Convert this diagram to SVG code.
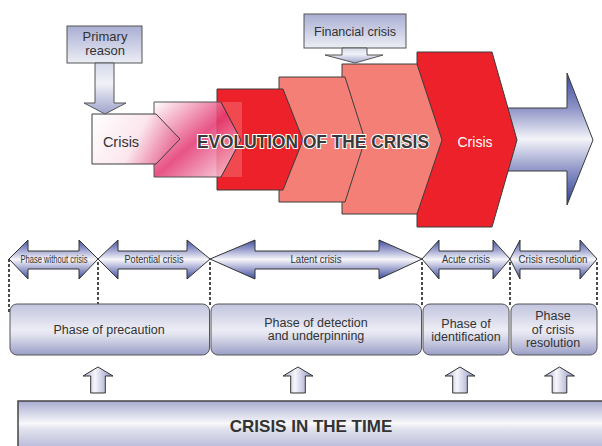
<svg xmlns="http://www.w3.org/2000/svg" width="602" height="446" viewBox="0 0 602 446">
<defs>
<style>
.ol{stroke:#3c3c3c;stroke-width:1;stroke-linejoin:miter}
.t{font-family:"Liberation Sans",Arial,sans-serif;fill:#333}
.lbl{font-family:"Liberation Sans",Arial,sans-serif;fill:#333;font-size:10px;text-anchor:middle}
.ph{font-family:"Liberation Sans",Arial,sans-serif;fill:#333;font-size:12.5px;text-anchor:middle}
.dash{stroke:#111;stroke-width:1.5;stroke-dasharray:3 2;fill:none}
.phase{fill:url(#gPhase);stroke:#555;stroke-width:1}
.dbl{fill:url(#gDbl);stroke:#333;stroke-width:1}
.up{fill:url(#gUp);stroke:#333;stroke-width:1}
.red{fill:#ed2129}
.salmon{fill:#f37f76}
</style>
<linearGradient id="gBlueArrow" gradientUnits="userSpaceOnUse" x1="0" y1="73" x2="0" y2="205">
<stop offset="0" stop-color="#3a4c9e"/>
<stop offset="0.265" stop-color="#8d93c6"/>
<stop offset="0.5" stop-color="#f4f4f9"/>
<stop offset="0.74" stop-color="#8d93c6"/>
<stop offset="1" stop-color="#2c4293"/>
</linearGradient>
<linearGradient id="gDbl" gradientUnits="userSpaceOnUse" x1="0" y1="240" x2="0" y2="279">
<stop offset="0" stop-color="#3e4f9f"/>
<stop offset="0.28" stop-color="#a7abd3"/>
<stop offset="0.5" stop-color="#f6f6fa"/>
<stop offset="0.72" stop-color="#a7abd3"/>
<stop offset="1" stop-color="#3a4b9a"/>
</linearGradient>
<linearGradient id="gPhase" x1="0" y1="0" x2="0" y2="1">
<stop offset="0" stop-color="#c2c4df"/>
<stop offset="0.5" stop-color="#ebecf4"/>
<stop offset="0.6" stop-color="#e2e3ef"/>
<stop offset="1" stop-color="#9a9ec7"/>
</linearGradient>
<linearGradient id="gBar" gradientUnits="userSpaceOnUse" x1="0" y1="401" x2="0" y2="446">
<stop offset="0" stop-color="#a9acd0"/>
<stop offset="0.5" stop-color="#f8f8fb"/>
<stop offset="0.6" stop-color="#e4e5ef"/>
<stop offset="1" stop-color="#bcbedb"/>
</linearGradient>
<linearGradient id="gBox" x1="0" y1="0" x2="0" y2="1">
<stop offset="0" stop-color="#a9aed3"/>
<stop offset="1" stop-color="#eceef5"/>
</linearGradient>
<linearGradient id="gDown" x1="0" y1="0" x2="0" y2="1">
<stop offset="0" stop-color="#d5d8ea"/>
<stop offset="0.4" stop-color="#f1f2f8"/>
<stop offset="1" stop-color="#9fa4cc"/>
</linearGradient>
<linearGradient id="gUp" x1="0" y1="0" x2="1" y2="0">
<stop offset="0" stop-color="#a3a7cf"/>
<stop offset="0.4" stop-color="#f6f6fb"/>
<stop offset="1" stop-color="#8c91c1"/>
</linearGradient>
<linearGradient id="gPink" x1="0" y1="0" x2="1" y2="1">
<stop offset="0" stop-color="#ffffff"/>
<stop offset="0.5" stop-color="#e43c74"/>
<stop offset="1" stop-color="#fbe3ea"/>
</linearGradient>
<linearGradient id="gWhitePink" x1="0" y1="0" x2="1" y2="0.3">
<stop offset="0" stop-color="#ffffff"/>
<stop offset="0.6" stop-color="#fbe6ed"/>
<stop offset="1" stop-color="#e9779d"/>
</linearGradient>
</defs>

<g id="big-arrow"><polygon class="ol" fill="url(#gBlueArrow)" points="500,108 567,108 567,73 593,140 567,205 567,171 500,171"/></g>
<g id="crisis-red"><polygon class="ol red" points="417,52 492,52 517,140 492,227 417,227"/>
<text class="t" x="475" y="147" font-size="14" text-anchor="middle" style="fill:#fff">Crisis</text></g>
<g id="stage3"><polygon class="ol salmon" points="342,64 417,64 442,140 417,214 342,214"/></g>
<g id="stage2"><polygon class="ol salmon" points="279,77 345,77 365,140 345,202 279,202"/></g>
<g id="stage1"><polygon class="ol red" points="217,89 283,89 303,140 283,190 217,190"/></g>
<g id="pink-box">
<polygon fill="url(#gPink)" fill-opacity="0.88" points="154,102 221,102 241,140 221,177 154,177"/>
<polygon fill="#ffffff" fill-opacity="0.18" points="221,102 242,102 242,177 221,177 241,140"/>
<polyline fill="none" stroke="#555" stroke-width="1" points="221,102 154,102 154,177 221,177"/>
<polyline fill="none" stroke="#333" stroke-width="1" points="221,102 241,140 221,177"/>
</g>
<g id="crisis-start"><polygon class="ol" fill="url(#gWhitePink)" points="92,114 156,114 180,139 156,164 92,164"/>
<text class="t" x="121" y="147" font-size="14.5" text-anchor="middle">Crisis</text></g>

<g id="primary-reason">
<rect x="67" y="26" width="75" height="37" fill="url(#gBox)" stroke="#555" stroke-width="1"/>
<polygon fill="url(#gDown)" stroke="#555" stroke-width="1" points="95,63 114,63 114,103 126,103 105,114 84,103 95,103"/>
<text class="t" x="105" y="41" font-size="13" text-anchor="middle">Primary</text>
<text class="t" x="105" y="55" font-size="13" text-anchor="middle">reason</text>
</g>
<g id="financial-crisis">
<rect x="304" y="14" width="102" height="34" fill="url(#gBox)" stroke="#555" stroke-width="1"/>
<polygon fill="url(#gDown)" stroke="#555" stroke-width="1" points="342,48 367,48 367,55 383,55 355,63 325,55 342,55"/>
<text class="t" x="355" y="36" font-size="12.5" text-anchor="middle">Financial crisis</text>
</g>
<g id="title"><text class="t" x="197" y="148" font-size="17.5" font-weight="bold" textLength="232" lengthAdjust="spacingAndGlyphs" stroke="#ffffff" stroke-width="2" paint-order="stroke" style="fill:#3a3a3a">EVOLUTION OF THE CRISIS</text></g>

<g id="connectors">
<line class="dash" x1="9" y1="259" x2="9" y2="312"/>
<line class="dash" x1="98" y1="262" x2="98" y2="304"/>
<line class="dash" x1="210" y1="262" x2="210" y2="305"/>
<line class="dash" x1="422" y1="262" x2="422" y2="305"/>
<line class="dash" x1="510" y1="262" x2="510" y2="305"/>
<line class="dash" x1="597" y1="262" x2="597" y2="305"/>
</g>

<g id="arrow-no-crisis"><polygon class="dbl" points="9,259 28,240 28,251 79,251 79,240 98,259 79,279 79,269 28,269 28,279"/>
<text class="lbl" x="54" y="263" textLength="67" lengthAdjust="spacingAndGlyphs">Phase without crisis</text></g>
<g id="arrow-potential"><polygon class="dbl" points="98,259 118,240 118,251 187,251 187,240 210,259 187,279 187,269 118,269 118,279"/>
<text class="lbl" x="154" y="263" textLength="59" lengthAdjust="spacingAndGlyphs">Potential crisis</text></g>
<g id="arrow-latent"><polygon class="dbl" points="210,259 255,240 255,251 379,251 379,240 422,259 379,279 379,269 255,269 255,279"/>
<text class="lbl" x="316" y="263" textLength="51" lengthAdjust="spacingAndGlyphs">Latent crisis</text></g>
<g id="arrow-acute"><polygon class="dbl" points="422,259 439,240 439,251 493,251 493,240 510,259 493,279 493,269 439,269 439,279"/>
<text class="lbl" x="466" y="263" textLength="48" lengthAdjust="spacingAndGlyphs">Acute crisis</text></g>
<g id="arrow-resolution"><polygon class="dbl" points="510,259 520,240 520,251 580,251 580,240 597,259 580,279 580,269 520,269 520,279"/>
<text class="lbl" x="553" y="263" textLength="69" lengthAdjust="spacingAndGlyphs">Crisis resolution</text></g>

<g id="phase-precaution"><rect class="phase" x="10" y="304" width="199.5" height="51" rx="7"/>
<text class="ph" x="109" y="334">Phase of precaution</text></g>
<g id="phase-detection"><rect class="phase" x="211" y="304" width="210.5" height="51" rx="7"/>
<text class="ph" x="316" y="326.5">Phase of detection</text>
<text class="ph" x="316" y="340">and underpinning</text></g>
<g id="phase-identification"><rect class="phase" x="423" y="304" width="86" height="51" rx="7"/>
<text class="ph" x="466" y="327.5">Phase of</text>
<text class="ph" x="466" y="341">identification</text></g>
<g id="phase-resolution"><rect class="phase" x="511" y="304" width="86" height="51" rx="7"/>
<text class="ph" x="553" y="320">Phase</text>
<text class="ph" x="553" y="333.5">of crisis</text>
<text class="ph" x="553" y="347">resolution</text></g>

<g id="up-arrows">
<polygon class="up" points="90.7,393 90.7,376 83,376 98,367 113,376 105.3,376 105.3,393"/>
<polygon class="up" points="290.7,393 290.7,376 283,376 298,367 313,376 305.3,376 305.3,393"/>
<polygon class="up" points="452.7,393 452.7,376 445,376 460,367 475,376 467.3,376 467.3,393"/>
<polygon class="up" points="552.2,393 552.2,376 544.5,376 559.5,367 574.5,376 566.8,376 566.8,393"/>
</g>

<g id="crisis-in-time"><rect x="18" y="401" width="600" height="60" fill="url(#gBar)" stroke="#444" stroke-width="1.5"/>
<text class="t" x="311" y="432" font-size="17" font-weight="bold" text-anchor="middle">CRISIS IN THE TIME</text></g>
</svg>
